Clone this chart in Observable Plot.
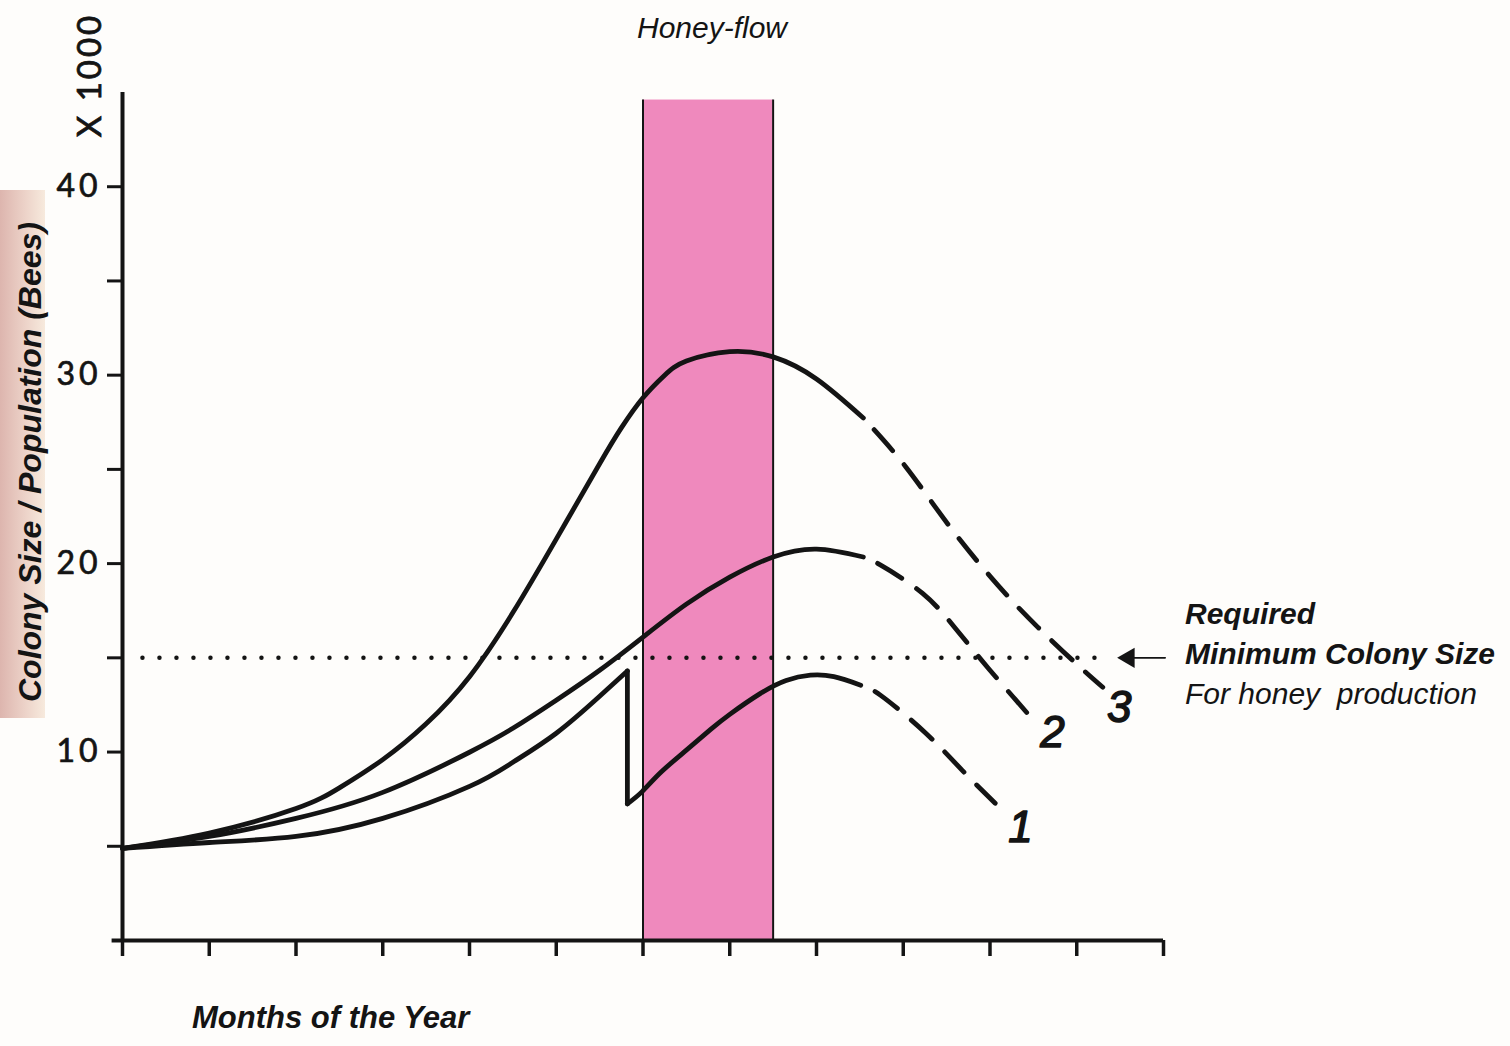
<!DOCTYPE html>
<html>
<head>
<meta charset="utf-8">
<script src="https://cdn.jsdelivr.net/npm/d3@7"></script>
<script src="https://cdn.jsdelivr.net/npm/@observablehq/plot@0.6"></script>
<style>
  html, body { margin: 0; padding: 0; background: #fefdfb; }
  #wrap { position: relative; width: 1510px; height: 1046px; overflow: hidden; background: #fefdfb; }
  #strip { position: absolute; left: 0; top: 190px; width: 45px; height: 528px;
           background: linear-gradient(to right, #ddb5ae, #ecd2c8 55%, #f7eadd); }
  #chart { position: absolute; left: 0; top: 0; }
  .t { position: absolute; color: #141414; font-family: "Liberation Sans", Arial, sans-serif; white-space: nowrap; }
  #ylab { left: 30px; top: 462px; transform: translate(-50%, -50%) rotate(-90deg); font-size: 32px; font-weight: bold; font-style: italic; }
  #units { left: 88px; top: 75px; transform: translate(-50%, -50%) rotate(-90deg); font-family: Lato, sans-serif; font-size: 33px; letter-spacing: 3px; -webkit-text-stroke: 0.8px #141414; }
  #honey { left: 712px; top: 8px; transform: translateX(-50%); font-size: 30px; font-style: italic; line-height: 40px; }
  #months { left: 192px; top: 998px; font-size: 31px; font-weight: bold; font-style: italic; line-height: 40px; }
  #req { left: 1185px; top: 594px; font-size: 30px; font-style: italic; line-height: 40px; }
  #req b { font-weight: bold; }
  svg [aria-label="y-axis tick label"] text { letter-spacing: 4px; stroke: #141414; stroke-width: 0.7px; }
</style>
</head>
<body>
<div id="wrap">
  <div id="strip"></div>
  <div id="chart"></div>
  <div class="t" id="ylab">Colony Size / Population (Bees)</div>
  <div class="t" id="units">X 1000</div>
  <div class="t" id="honey">Honey-flow</div>
  <div class="t" id="months">Months of the Year</div>
  <div class="t" id="req"><b>Required</b><br><b>Minimum Colony Size</b><br>For honey &nbsp;production</div>
</div>
<script>
// ---- data ----
const monthTicks = [0,1,2,3,4,5,6,7,8,9,10,11,12];
const yTicks = [5,10,15,20,25,30,35,40];
const yLabelTicks = [10,20,30,40];

const honeyFlowMonths = [6, 7.5];   // start, end of honey-flow
const honeyFlowTop = 44.6;

const minColonySize = 15;
const dottedMonths = [0.23, 11.37];
const arrowMonths = [11.55, 12.02];
const arrowHeadMonth = [11.6];

// Colony 3 (strong)
const c3SolidMonths = [0, 1, 2, 2.5, 3, 3.5, 4, 4.5, 5, 5.5, 5.75, 6, 6.25, 6.5, 7, 7.5, 8, 8.54];
const c3SolidValues = [4.89, 5.7, 7.0, 8.1, 9.6, 11.5, 14.0, 17.4, 21.3, 25.3, 27.2, 28.8, 30.0, 30.75, 31.25, 30.97, 29.8, 27.73];
const c3DashMonths  = [8.54, 9.03, 9.54, 10.09, 10.55, 10.99, 11.3];
const c3DashValues  = [27.73, 25.13, 21.94, 18.86, 16.63, 14.71, 13.44];

// Colony 2
const c2SolidMonths = [0, 1, 2, 3, 4, 4.5, 5, 5.5, 6, 6.5, 7, 7.5, 8, 8.54];
const c2SolidValues = [4.89, 5.52, 6.48, 7.86, 9.99, 11.26, 12.75, 14.34, 16.1, 17.85, 19.28, 20.35, 20.77, 20.35];
const c2DashMonths  = [8.54, 8.74, 9.22, 9.6, 9.98, 10.27, 10.52];
const c2DashValues  = [20.35, 19.92, 18.43, 16.57, 14.45, 12.91, 11.58];

// Colony 1 (swarms just before honey-flow)
const c1RiseMonths  = [0, 1, 2, 3, 4, 4.5, 5, 5.5, 5.82];
const c1RiseValues  = [4.89, 5.2, 5.52, 6.48, 8.18, 9.46, 11.0, 12.96, 14.3];
const c1DropMonths  = [5.82, 5.82];
const c1DropValues  = [14.3, 7.25];
const c1AfterMonths = [5.82, 5.99, 6.2, 6.5, 6.78, 7.0, 7.35, 7.65, 7.93, 8.2, 8.51];
const c1AfterValues = [7.25, 7.9, 8.9, 10.1, 11.2, 12.0, 13.1, 13.8, 14.08, 14.0, 13.55];
const c1DashMonths  = [8.51, 8.74, 9.26, 9.68, 10.06];
const c1DashValues  = [13.55, 13.01, 11.0, 9.03, 7.28];

const curveLabels = ["1", "2", "3"];
const curveLabelMonths = [10.35, 10.72, 11.49];
const curveLabelValues = [5.95, 11.0, 12.33];

// ---- build tables ----
const ink = "#141414";
const pink = "#ef89bd";
function seg(name, ms, vs) { return ms.map((m, i) => ({seg: name, m, v: vs[i]})); }
const solidRows = [
  ...seg("c3", c3SolidMonths, c3SolidValues),
  ...seg("c2", c2SolidMonths, c2SolidValues),
  ...seg("c1a", c1RiseMonths, c1RiseValues),
  ...seg("c1c", c1AfterMonths, c1AfterValues)
];
const dropRows = seg("c1b", c1DropMonths, c1DropValues);
const dashRows = [
  ...seg("c3", c3DashMonths, c3DashValues),
  ...seg("c2", c2DashMonths, c2DashValues),
  ...seg("c1", c1DashMonths, c1DashValues)
];
const labelRows = curveLabels.map((t, i) => ({t, m: curveLabelMonths[i], v: curveLabelValues[i]}));
const bandRows = [{start: honeyFlowMonths[0], end: honeyFlowMonths[1], top: honeyFlowTop}];

const chart = Plot.plot({
  width: 1510,
  height: 1046,
  marginLeft: 122,
  marginRight: 347,
  marginTop: 92,
  marginBottom: 106,
  x: {domain: [0, 12]},
  y: {domain: [0, 45]},
  style: {background: "transparent", overflow: "visible", color: ink},
  marks: [
    Plot.rect(bandRows, {x1: "start", x2: "end", y1: 0, y2: "top", fill: pink}),
    Plot.ruleX(honeyFlowMonths, {y1: 0, y2: honeyFlowTop, stroke: ink, strokeWidth: 2}),
    Plot.line(dottedMonths.map(m => ({m, v: minColonySize})), {x: "m", y: "v", stroke: ink, strokeWidth: 4.5, strokeLinecap: "round", strokeDasharray: "0,17"}),
    Plot.line(arrowMonths.map(m => ({m, v: minColonySize})), {x: "m", y: "v", stroke: ink, strokeWidth: 1.6}),
    Plot.dot(arrowHeadMonth.map(m => ({m, v: minColonySize})), {x: "m", y: "v", symbol: "triangle", rotate: -90, r: 7.5, fill: ink, stroke: "none"}),
    Plot.line(solidRows, {x: "m", y: "v", z: "seg", curve: "natural", stroke: ink, strokeWidth: 4.8, strokeLinecap: "round", strokeLinejoin: "round"}),
    Plot.line(dropRows, {x: "m", y: "v", z: "seg", stroke: ink, strokeWidth: 4.8, strokeLinecap: "round"}),
    Plot.line(dashRows, {x: "m", y: "v", z: "seg", curve: "natural", stroke: ink, strokeWidth: 4.8, strokeLinecap: "round", strokeDasharray: "28,18", strokeDashoffset: 30}),
    Plot.ruleX([0], {y1: 0, y2: 45, stroke: ink, strokeWidth: 4}),
    Plot.ruleY([0], {x1: -0.12, x2: 12, stroke: ink, strokeWidth: 4}),
    Plot.axisX(monthTicks, {tickSize: 16, tickFormat: () => "", strokeWidth: 3.5, stroke: ink, label: null}),
    Plot.axisY(yTicks, {tickSize: 15, tickPadding: 6, strokeWidth: 3, stroke: ink,
      tickFormat: d => yLabelTicks.includes(d) ? String(d) : "",
      fontSize: 32, fontFamily: "Lato, sans-serif", fill: ink, label: null}),
    Plot.text(labelRows, {x: "m", y: "v", text: "t", fontSize: 44, fontStyle: "italic", fontFamily: "Liberation Sans, Arial, sans-serif", fill: ink, stroke: ink, strokeWidth: 1.5, lineAnchor: "middle"})
  ]
});
document.getElementById("chart").appendChild(chart);
</script>
</body>
</html>
